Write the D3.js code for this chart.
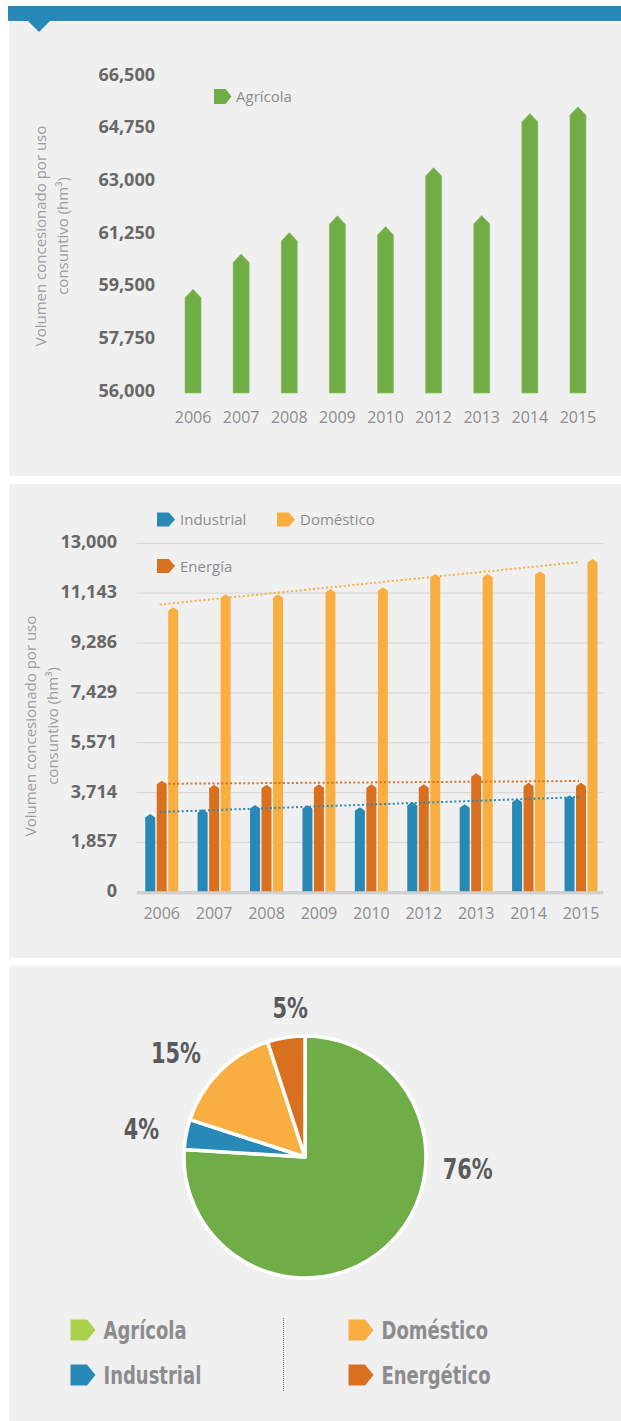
<!DOCTYPE html>
<html>
<head>
<meta charset="utf-8">
<script src="https://cdn.jsdelivr.net/npm/d3@7"></script>
<style>
  html, body { margin: 0; padding: 0; background: #ffffff; }
  svg { display: block; }
</style>
</head>
<body>
<svg id="chart" width="621" height="1421"></svg>
<script>
// ---------- DATA ----------
const agriYears = ["2006", "2007", "2008", "2009", "2010", "2012", "2013", "2014", "2015"];
const agriValues = [59450, 60620, 61330, 61890, 61530, 63490, 61900, 65290, 65510];
const agriTicks = [56000, 57750, 59500, 61250, 63000, 64750, 66500];

const useYears = ["2006", "2007", "2008", "2009", "2010", "2012", "2013", "2014", "2015"];
const industrialValues = [2917, 3091, 3252, 3240, 3166, 3364, 3278, 3488, 3613];
const energiaValues = [4158, 4009, 4009, 4022, 4022, 4022, 4432, 4083, 4083];
const domesticoValues = [10616, 11100, 11100, 11298, 11361, 11857, 11868, 11957, 12415];
const useTicks = [0, 1857, 3714, 5571, 7429, 9286, 11143, 13000];
const useSeriesNames = ["Industrial", "Energía", "Doméstico"];

const pieNames = ["Agrícola", "Industrial", "Doméstico", "Energético"];
const pieShares = [76, 4, 15, 5];

const yTitleLines = ["Volumen concesionado por uso", "consuntivo (hm³)"];

// ---------- STYLE ----------
const C = {
  banner: "#2889b8", panel: "#f0f0f0",
  green: "#70ad47", greenLight: "#a9d14b",
  blue: "#2889b6", dark: "#d9701f", light: "#f9ae42",
  tick: "#686868", axis: "#8c8c8e", title: "#9d9d9f", pieLab: "#5a5a5c",
  grid: "#d8d8d8", base: "#d0d0d0"
};
const SANS = "'Open Sans', 'Noto Sans', sans-serif";
const NARROW = "'DejaVu Sans Condensed', 'DejaVu Sans', sans-serif";
const SQUEEZE = 0.8;
const fmt = d3.format(",");

const svg = d3.select("#chart");

// ---------- PANELS ----------
svg.append("rect").attr("x", 9).attr("y", 21).attr("width", 612).attr("height", 455).attr("fill", C.panel);
svg.append("rect").attr("x", 9).attr("y", 484).attr("width", 612).attr("height", 474).attr("fill", C.panel);
svg.append("rect").attr("x", 9).attr("y", 966).attr("width", 612).attr("height", 455).attr("fill", C.panel);
svg.append("rect").attr("x", 8).attr("y", 6).attr("width", 613).attr("height", 15).attr("fill", C.banner);
svg.append("path").attr("d", "M28,21 L50,21 L39,32 Z").attr("fill", C.banner);

function arrowBar(x, w, yTop, yBase, tip) {
  return `M${x},${yBase} L${x},${yTop + tip} L${x + w / 2},${yTop} L${x + w},${yTop + tip} L${x + w},${yBase} Z`;
}
function marker(g, x, y, w, h, color) {
  g.append("path")
    .attr("d", `M${x},${y} H${x + w * 0.66} L${x + w},${y + h / 2} L${x + w * 0.66},${y + h} H${x} Z`)
    .attr("fill", color);
}
function yTitle(cx, cy) {
  const t = svg.append("text")
    .attr("transform", `translate(${cx},${cy}) rotate(-90)`)
    .attr("text-anchor", "middle")
    .attr("font-family", SANS).attr("font-size", 15).attr("fill", C.title);
  yTitleLines.forEach((line, i) => {
    t.append("tspan").attr("x", 0).attr("y", i * 22).text(line);
  });
}

// ---------- CHART 1 : Agrícola ----------
{
  const x = d3.scaleBand().domain(agriYears).range([169, 602]).paddingInner(0.667).paddingOuter(0.333);
  const y = d3.scaleLinear().domain([56000, 66500]).range([393, 77]);
  const g = svg.append("g");

  g.selectAll("path.bar").data(agriValues).join("path")
    .attr("class", "bar")
    .attr("d", (d, i) => arrowBar(x(agriYears[i]), x.bandwidth(), y(d), y(56000), 8.5))
    .attr("fill", C.green).attr("stroke", "#8cc066").attr("stroke-width", 0.6);

  g.selectAll("text.ytick").data(agriTicks).join("text")
    .attr("class", "ytick")
    .attr("x", 155).attr("y", d => y(d) + 3.5)
    .attr("text-anchor", "end")
    .attr("font-family", SANS).attr("font-weight", 700).attr("font-size", 18).attr("fill", C.tick)
    .text(d => fmt(d));

  g.selectAll("text.xtick").data(agriYears).join("text")
    .attr("class", "xtick")
    .attr("x", d => x(d) + x.bandwidth() / 2).attr("y", 423)
    .attr("text-anchor", "middle")
    .attr("font-family", SANS).attr("font-size", 16).attr("fill", C.axis)
    .text(d => d);

  marker(g, 214, 89, 17.5, 15, C.green);
  g.append("text").attr("x", 236).attr("y", 102)
    .attr("font-family", SANS).attr("font-size", 15).attr("fill", C.axis).text("Agrícola");

  yTitle(46, 236);
}

// ---------- CHART 2 : Industrial / Energía / Doméstico ----------
{
  const x = d3.scaleBand().domain(useYears).range([135.5, 607.2]);
  const sub = d3.scaleBand().domain([0, 1, 2]).range([-17.25, 17.25]).paddingInner(0.13).paddingOuter(0.065);
  const y = d3.scaleLinear().domain([0, 13000]).range([892.3, 543.3]);
  const g = svg.append("g");

  g.selectAll("line.grid").data(useTicks.filter(d => d > 0)).join("line")
    .attr("class", "grid")
    .attr("x1", 136.7).attr("x2", 603.3)
    .attr("y1", d => y(d)).attr("y2", d => y(d))
    .attr("stroke", C.grid).attr("stroke-width", 1.2);

  g.append("line").attr("x1", 136.7).attr("x2", 603.3).attr("y1", y(0) + 0.5).attr("y2", y(0) + 0.5)
    .attr("stroke", C.base).attr("stroke-width", 3.5);

  const series = [industrialValues, energiaValues, domesticoValues];
  const colors = [C.blue, C.dark, C.light];
  series.forEach((vals, s) => {
    g.selectAll(`path.bar${s}`).data(vals).join("path")
      .attr("class", `bar${s}`)
      .attr("d", (d, i) => {
        const cx = x(useYears[i]) + x.bandwidth() / 2;
        return arrowBar(cx + sub(s), sub.bandwidth(), y(d), y(0) - 1, 3.5);
      })
      .attr("fill", colors[s]);
  });

  // linear trend lines
  series.forEach((vals, s) => {
    const n = vals.length;
    const mx = d3.mean(vals, (d, i) => i), my = d3.mean(vals);
    const slope = d3.sum(vals, (d, i) => (i - mx) * (d - my)) / d3.sum(vals, (d, i) => (i - mx) * (i - mx));
    const b = my - slope * mx;
    const cx0 = x(useYears[0]) + x.bandwidth() / 2 - 2;
    const cx1 = x(useYears[n - 1]) + x.bandwidth() / 2 - 2;
    g.append("line")
      .attr("x1", cx0).attr("y1", y(b))
      .attr("x2", cx1).attr("y2", y(b + slope * (n - 1)))
      .attr("stroke", colors[s]).attr("stroke-width", 2)
      .attr("stroke-dasharray", "2,2.4");
  });

  g.selectAll("text.ytick").data(useTicks).join("text")
    .attr("class", "ytick")
    .attr("x", 117).attr("y", d => y(d) + 5)
    .attr("text-anchor", "end")
    .attr("font-family", SANS).attr("font-weight", 700).attr("font-size", 18).attr("fill", C.tick)
    .text(d => fmt(d));

  g.selectAll("text.xtick").data(useYears).join("text")
    .attr("class", "xtick")
    .attr("x", d => x(d) + x.bandwidth() / 2).attr("y", 918.5)
    .attr("text-anchor", "middle")
    .attr("font-family", SANS).attr("font-size", 16).attr("fill", C.axis)
    .text(d => d);

  const legend = [
    { name: useSeriesNames[0], color: C.blue, mx: 157, my: 512.5 },
    { name: useSeriesNames[2], color: C.light, mx: 277, my: 512.5 },
    { name: useSeriesNames[1], color: C.dark, mx: 157, my: 559 }
  ];
  legend.forEach(l => {
    marker(g, l.mx, l.my, 18, 14, l.color);
    g.append("text").attr("x", l.mx + 23).attr("y", l.my + 12.5)
      .attr("font-family", SANS).attr("font-size", 15).attr("fill", C.axis).text(l.name);
  });

  yTitle(36, 726);
}

// ---------- CHART 3 : Pie ----------
{
  const cx = 305, cy = 1157, r = 121;
  const pieColors = [C.green, C.blue, C.light, C.dark];
  const pie = d3.pie().sort(null).value(d => d)(pieShares);
  const arc = d3.arc().innerRadius(0).outerRadius(r);
  const g = svg.append("g").attr("transform", `translate(${cx},${cy})`);

  g.selectAll("path").data(pie).join("path")
    .attr("d", arc)
    .attr("fill", (d, i) => pieColors[i])
    .attr("stroke", "#ffffff").attr("stroke-width", 3.5).attr("stroke-linejoin", "round");

  // label placement: angular shift (deg) from slice middle, and radius
  const labelShift = [-42.8, -0.8, -6, 3.3];
  const labelRadius = [163, 166, 166, 150];
  const fs = 29;
  g.selectAll("text").data(pie).join("text")
    .attr("transform", (d, i) => {
      const a = (d.startAngle + d.endAngle) / 2 + labelShift[i] * Math.PI / 180;
      const lr = labelRadius[i];
      return `translate(${Math.sin(a) * lr},${-Math.cos(a) * lr + fs * 0.36}) scale(${SQUEEZE},1)`;
    })
    .attr("text-anchor", "middle")
    .attr("font-family", NARROW).attr("font-weight", 700).attr("font-size", fs).attr("fill", C.pieLab)
    .text(d => d.data + "%");

  const legendColors = [C.greenLight, C.blue, C.light, C.dark];
  const lg = svg.append("g");
  pieNames.forEach((name, i) => {
    const col = Math.floor(i / 2), row = i % 2;
    const mx = col === 0 ? 70.5 : 348.5;
    const my = 1319.5 + row * 45;
    marker(lg, mx, my, 25, 21, legendColors[i]);
    lg.append("text")
      .attr("transform", `translate(${mx + 33},${my + 19}) scale(${SQUEEZE},1)`)
      .attr("font-family", NARROW).attr("font-weight", 700).attr("font-size", 25).attr("fill", C.axis)
      .text(name);
  });
  lg.append("line").attr("x1", 283.5).attr("x2", 283.5).attr("y1", 1318).attr("y2", 1391)
    .attr("stroke", "#777").attr("stroke-width", 1).attr("stroke-dasharray", "1,1");
}
</script>
</body>
</html>
